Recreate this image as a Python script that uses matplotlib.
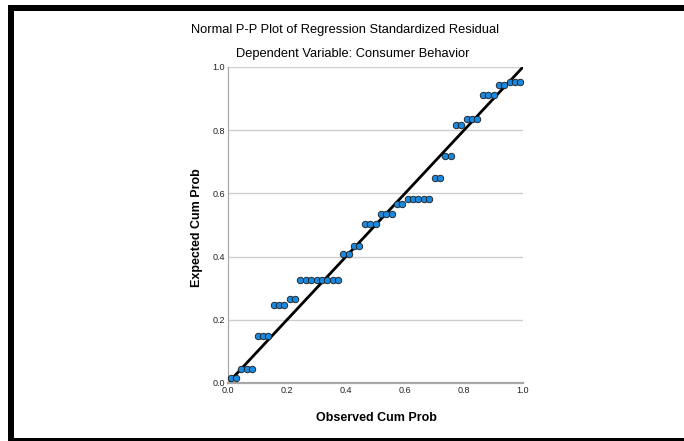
"""normal p-p plot of regression standardized residual (SPSS style)"""

# == imports ==
import matplotlib
matplotlib.use('Agg')
import matplotlib.pyplot as plt
from matplotlib.patches import Rectangle

# == data ==
# observed cumulative probability (x)
observed = [0.009, 0.027, 0.045, 0.064, 0.082, 0.100, 0.118, 0.136, 0.155, 0.173,
            0.191, 0.209, 0.227, 0.245, 0.264, 0.282, 0.300, 0.318, 0.336, 0.355,
            0.373, 0.391, 0.409, 0.427, 0.445, 0.464, 0.482, 0.500, 0.518, 0.536,
            0.555, 0.573, 0.591, 0.609, 0.627, 0.645, 0.664, 0.682, 0.700, 0.718,
            0.736, 0.755, 0.773, 0.791, 0.809, 0.827, 0.845, 0.864, 0.882, 0.900,
            0.918, 0.936, 0.955, 0.973, 0.991]
# expected cumulative probability (y)
expected = [0.016, 0.016, 0.043, 0.043, 0.043, 0.149, 0.149, 0.149, 0.247, 0.247,
            0.247, 0.265, 0.265, 0.326, 0.326, 0.326, 0.326, 0.326, 0.326, 0.326,
            0.326, 0.408, 0.408, 0.434, 0.434, 0.503, 0.503, 0.503, 0.535, 0.535,
            0.535, 0.566, 0.566, 0.581, 0.581, 0.581, 0.581, 0.581, 0.650, 0.650,
            0.718, 0.718, 0.817, 0.817, 0.835, 0.835, 0.835, 0.910, 0.910, 0.910,
            0.943, 0.943, 0.954, 0.954, 0.954]
ref_line = [0.0, 1.0]
ticks = [0.0, 0.2, 0.4, 0.6, 0.8, 1.0]
tick_labels = ['0.0', '0.2', '0.4', '0.6', '0.8', '1.0']

title = 'Normal P-P Plot of Regression Standardized Residual'
subtitle = 'Dependent Variable: Consumer Behavior'

# == plot ==
plt.rcParams['font.family'] = ['Liberation Sans', 'DejaVu Sans']

W, H = 684, 441
fig = plt.figure(figsize=(W / 100, H / 100), dpi=100)
fig.patch.set_facecolor('white')

ax = fig.add_axes([228 / W, 1 - 383 / H, (523 - 228) / W, (383 - 67) / H])
ax.set_xlim(0, 1)
ax.set_ylim(0, 1)

for t in ticks[1:]:
    ax.axhline(t, color='#cfcfcf', lw=1.0, zorder=1)

ax.plot(ref_line, ref_line, color='black', lw=2.0, zorder=2, solid_capstyle='butt')
ax.scatter(observed, expected, s=22, color='#1a88dc', edgecolors='#1a1a1a',
           linewidths=0.6, zorder=3, clip_on=False)

for side in ['top', 'right']:
    ax.spines[side].set_visible(False)
ax.spines['left'].set_color('#a8a8a8')
ax.spines['left'].set_linewidth(0.9)
ax.spines['bottom'].set_color('#a8a8a8')
ax.spines['bottom'].set_linewidth(1.6)

ax.set_xticks(ticks)
ax.set_xticklabels(tick_labels)
ax.set_yticks(ticks)
ax.set_yticklabels(tick_labels)
ax.tick_params(axis='both', length=0, labelsize=6.5, colors='#222222')
ax.tick_params(axis='x', pad=2)
ax.tick_params(axis='y', pad=2)

fig.text(197 / W, 1 - 228 / H, 'Expected Cum Prob', rotation=90, ha='center',
         va='center', fontsize=9, fontweight='bold')
fig.text(376 / W, 1 - 418 / H, 'Observed Cum Prob', ha='center', va='center',
         fontsize=9, fontweight='bold')
fig.text(345 / W, 1 - 30 / H, title, ha='center', va='center', fontsize=9.3)
fig.text(353 / W, 1 - 54 / H, subtitle, ha='center', va='center', fontsize=9.3)

# black frame (left, top, bottom)
fig.add_artist(Rectangle((8 / W, 0), 6 / W, 1 - 5 / H, transform=fig.transFigure,
                         color='black', lw=0))
fig.add_artist(Rectangle((8 / W, 1 - 11 / H), 1, 6 / H, transform=fig.transFigure,
                         color='black', lw=0))
fig.add_artist(Rectangle((8 / W, 0), 1, 3 / H, transform=fig.transFigure,
                         color='black', lw=0))

fig.savefig('out.png', dpi=100)
